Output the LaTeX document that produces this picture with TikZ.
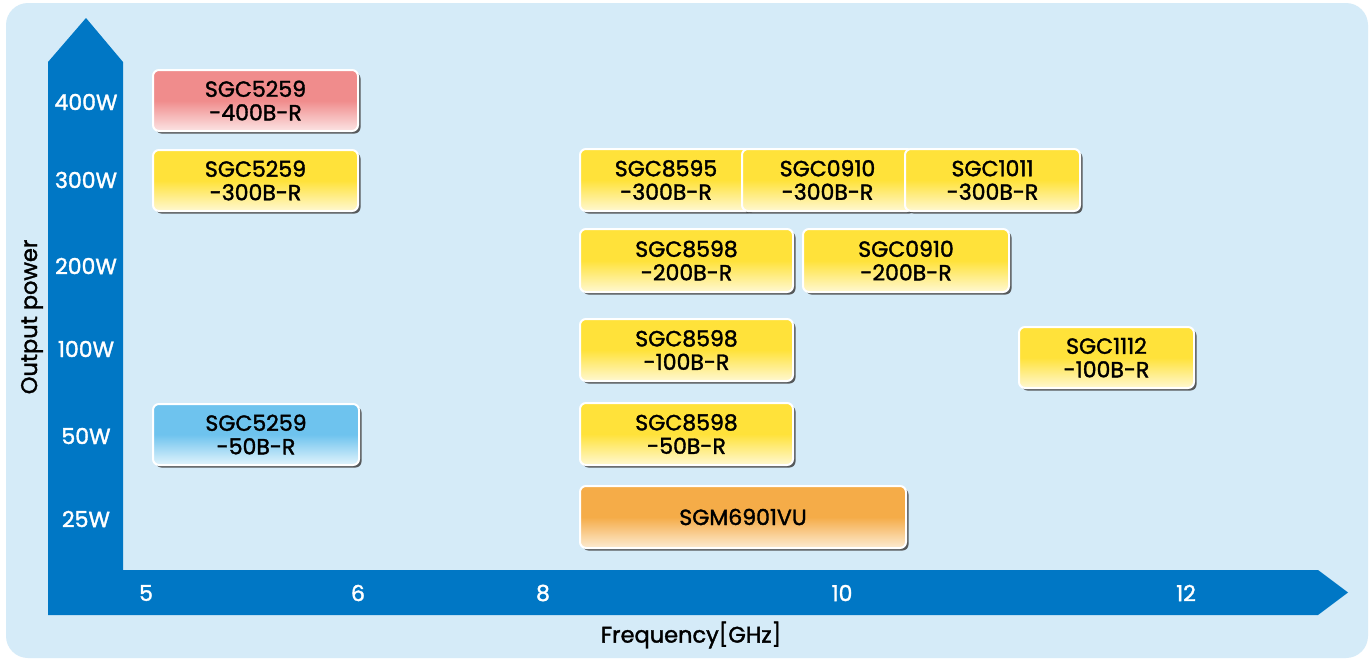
\documentclass[tikz,border=0pt]{standalone}
\usepackage{fontspec}
\setmainfont{Poppins}[FakeBold=1.6]
\usetikzlibrary{shadows}
\definecolor{bgblue}{HTML}{D5EBF8}
\definecolor{axblue}{HTML}{0077C5}
\definecolor{ytop}{HTML}{FFE23A}
\definecolor{ybot}{HTML}{FFF8D2}
\definecolor{ptop}{HTML}{F08C8C}
\definecolor{pbot}{HTML}{FCE4E4}
\definecolor{btop}{HTML}{6EC3EE}
\definecolor{bbot}{HTML}{E2F4FC}
\definecolor{otop}{HTML}{F5AC48}
\definecolor{obot}{HTML}{FDEBD2}
\begin{document}
\begin{tikzpicture}[x=1pt,y=-1pt,
  chip/.style={draw=white, line width=2pt, rounded corners=6pt, align=center,
    inner sep=0pt, text=black, font=\fontsize{22}{23.5}\selectfont,
    drop shadow={shadow xshift=2.5pt, shadow yshift=-2.5pt, fill=black!75, opacity=0.85}},
  ychip/.style={chip, top color=ytop, bottom color=ybot, middle color=ytop},
  pchip/.style={chip, top color=ptop, bottom color=pbot, middle color=ptop},
  bchip/.style={chip, top color=btop, bottom color=bbot, middle color=btop},
  ochip/.style={chip, top color=otop, bottom color=obot, middle color=otop},
  axlab/.style={text=white, inner sep=0pt, font=\fontsize{22}{24}\selectfont},
  title/.style={text=black, inner sep=0pt, font=\fontsize{22.5}{24}\selectfont}]
\useasboundingbox (0,0) rectangle (1370,659);
\fill[white] (0,0) rectangle (1370,659);
\fill[bgblue, rounded corners=22pt] (6,3) rectangle (1368,658);
% axes
\fill[axblue] (48,615) -- (48,62) -- (86,18) -- (123,62) -- (123,570) -- (1318,570)
  -- (1348,592.5) -- (1318,615) -- cycle;
% y labels
\node[axlab] (y400) at (86,102) {400W};
\node[axlab] (y300) at (86,180) {300W};
\node[axlab] (y200) at (86,266) {200W};
\node[axlab] (y100) at (86,349) {100W};
\node[axlab] (y50) at (86,436) {50W};
\node[axlab] (y25) at (86,519) {25W};
% x labels
\node[axlab] (x5) at (146,593) {5};
\node[axlab] (x6) at (358,593) {6};
\node[axlab] (x8) at (543,593) {8};
\node[axlab] (x10) at (842,593) {10};
\node[axlab] (x12) at (1186,593) {12};
\node[title] (xt) at (691,635) {Frequency[GHz]};
\node[title, rotate=90] (yt) at (32,317) {Output power};
% boxes
\node[pchip, minimum width=205pt, minimum height=61pt] (b1) at (255.5,100.5) {SGC5259\\-400B-R};
\node[ychip, minimum width=205pt, minimum height=61pt] (b2) at (255.5,180.5) {SGC5259\\-300B-R};
\node[ychip, minimum width=172pt, minimum height=62pt] (b3) at (666,180) {SGC8595\\-300B-R};
\node[ychip, minimum width=171pt, minimum height=62pt] (b4) at (827.5,180) {SGC0910\\-300B-R};
\node[ychip, minimum width=175pt, minimum height=62pt] (b5) at (992.5,180) {SGC1011\\-300B-R};
\node[ychip, minimum width=213pt, minimum height=63pt] (b6) at (686.5,260.5) {SGC8598\\-200B-R};
\node[ychip, minimum width=206pt, minimum height=63pt] (b7) at (906,260.5) {SGC0910\\-200B-R};
\node[ychip, minimum width=213pt, minimum height=62pt] (b8) at (686.5,350) {SGC8598\\-100B-R};
\node[ychip, minimum width=175pt, minimum height=61pt] (b9) at (1106.5,357.5) {SGC1112\\-100B-R};
\node[bchip, minimum width=206pt, minimum height=61pt] (b10) at (256,434.5) {SGC5259\\-50B-R};
\node[ychip, minimum width=213pt, minimum height=62pt] (b11) at (686.5,434) {SGC8598\\-50B-R};
\node[ochip, minimum width=326pt, minimum height=62pt] (b12) at (743,517) {SGM6901VU};
\end{tikzpicture}
\end{document}
